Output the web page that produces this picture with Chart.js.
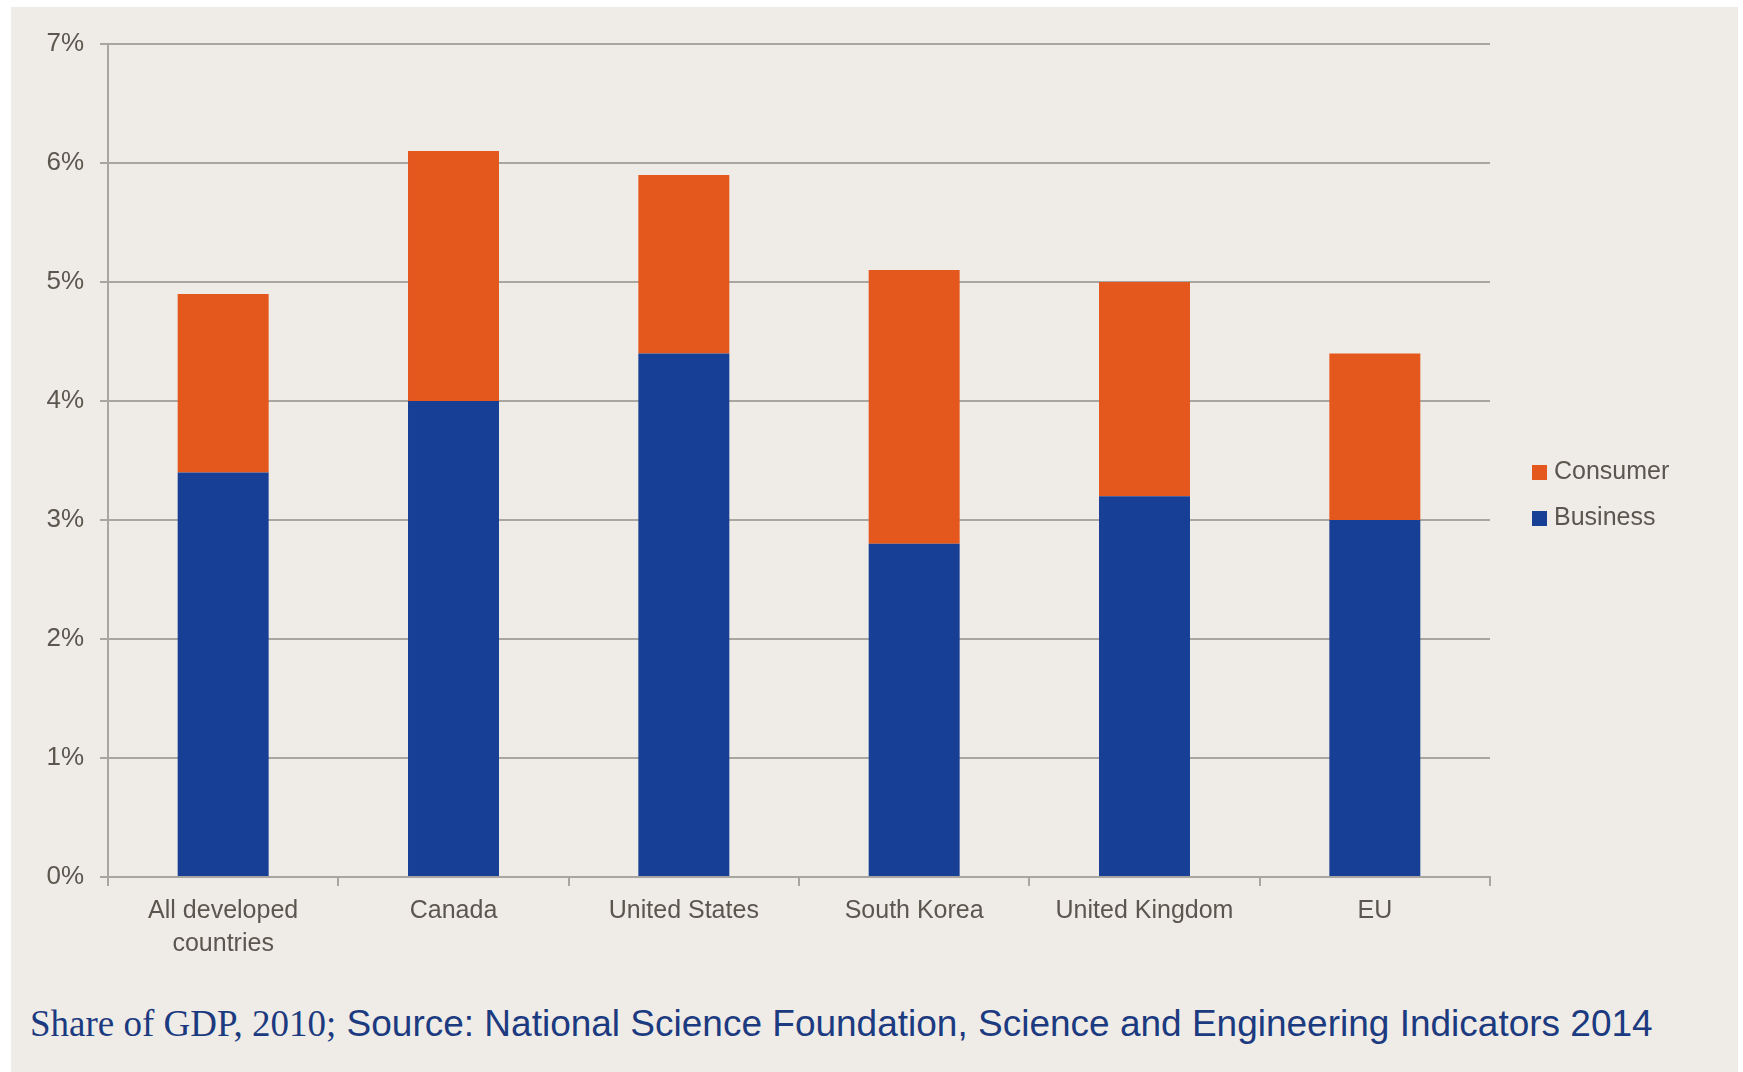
<!DOCTYPE html>
<html>
<head>
<meta charset="utf-8">
<script src="https://cdn.jsdelivr.net/npm/chart.js@4"></script>
<style>
  body { margin: 0; background: #fff; width: 1743px; height: 1072px; position: relative; overflow: hidden; }
  #panel { position: absolute; left: 11px; top: 7px; width: 1727px; height: 1065px; background: #efece7; }
  #wrap { position: absolute; left: 0; top: 0; width: 1743px; height: 960px; }
  #note { position: absolute; left: 30px; top: 1000px; white-space: nowrap; color: #1c3a80; line-height: 48px; }
  #note .serif { font-family: "Liberation Serif", serif; font-size: 37px; }
  #note .sans { font-family: "Liberation Sans", sans-serif; font-size: 37px; }
</style>
</head>
<body>
<div id="panel"></div>
<div id="wrap"><canvas id="chart"></canvas></div>
<div id="note"><span class="serif">Share of GDP, 2010;</span><span class="sans"> Source: National Science Foundation, Science and Engineering Indicators 2014</span></div>
<script>
const categories = [["All developed", "countries"], "Canada", "United States", "South Korea", "United Kingdom", "EU"];
const business = [3.4, 4.0, 4.4, 2.8, 3.2, 3.0];
const consumer = [1.5, 2.1, 1.5, 2.3, 1.8, 1.4];
const yTicks = [0, 1, 2, 3, 4, 5, 6, 7];

const gridColor = "#a9a6a0";
const textColor = "#5b574e";
const tickFont = "'Liberation Sans', Arial, sans-serif";

// legend drawn by hand so it can sit where the original has it
const sideLegend = {
  id: "sideLegend",
  afterDraw(chart) {
    const ctx = chart.ctx;
    const items = [...chart.data.datasets].reverse();
    ctx.save();
    ctx.font = "25px " + tickFont;
    ctx.textBaseline = "middle";
    items.forEach((ds, i) => {
      const y = 472 + i * 46;
      ctx.fillStyle = ds.backgroundColor;
      ctx.fillRect(1532, y - 7, 15, 15);
      ctx.fillStyle = textColor;
      ctx.fillText(ds.label, 1554, y);
    });
    ctx.restore();
  }
};

new Chart(document.getElementById("chart"), {
  type: "bar",
  data: {
    labels: categories,
    datasets: [
      { label: "Business", data: business, backgroundColor: "#173f95" },
      { label: "Consumer", data: consumer, backgroundColor: "#e4581e" }
    ]
  },
  options: {
    responsive: true,
    maintainAspectRatio: false,
    animation: false,
    layout: { padding: { left: 0, top: 44, right: 253, bottom: 0 } },
    datasets: { bar: { barPercentage: 0.395, categoryPercentage: 1 } },
    plugins: { legend: { display: false }, tooltip: { enabled: false } },
    scales: {
      x: {
        stacked: true,
        afterFit: s => { s.height = 83; },
        grid: { display: true, drawOnChartArea: false, color: gridColor, lineWidth: 2, tickLength: 9, offset: true },
        border: { color: gridColor, width: 2 },
        ticks: { color: textColor, font: { family: tickFont, size: 25, lineHeight: 1.3 }, padding: 9, maxRotation: 0, autoSkip: false }
      },
      y: {
        stacked: true,
        min: yTicks[0],
        max: yTicks[yTicks.length - 1],
        afterFit: s => { s.width = 108; },
        afterBuildTicks: s => { s.ticks = yTicks.map(v => ({ value: v })); },
        grid: { color: gridColor, lineWidth: 2, tickLength: 8 },
        border: { color: gridColor, width: 2 },
        ticks: { color: textColor, font: { family: tickFont, size: 26 }, padding: 16, callback: v => v + "%" }
      }
    }
  },
  plugins: [sideLegend]
});
</script>
</body>
</html>
